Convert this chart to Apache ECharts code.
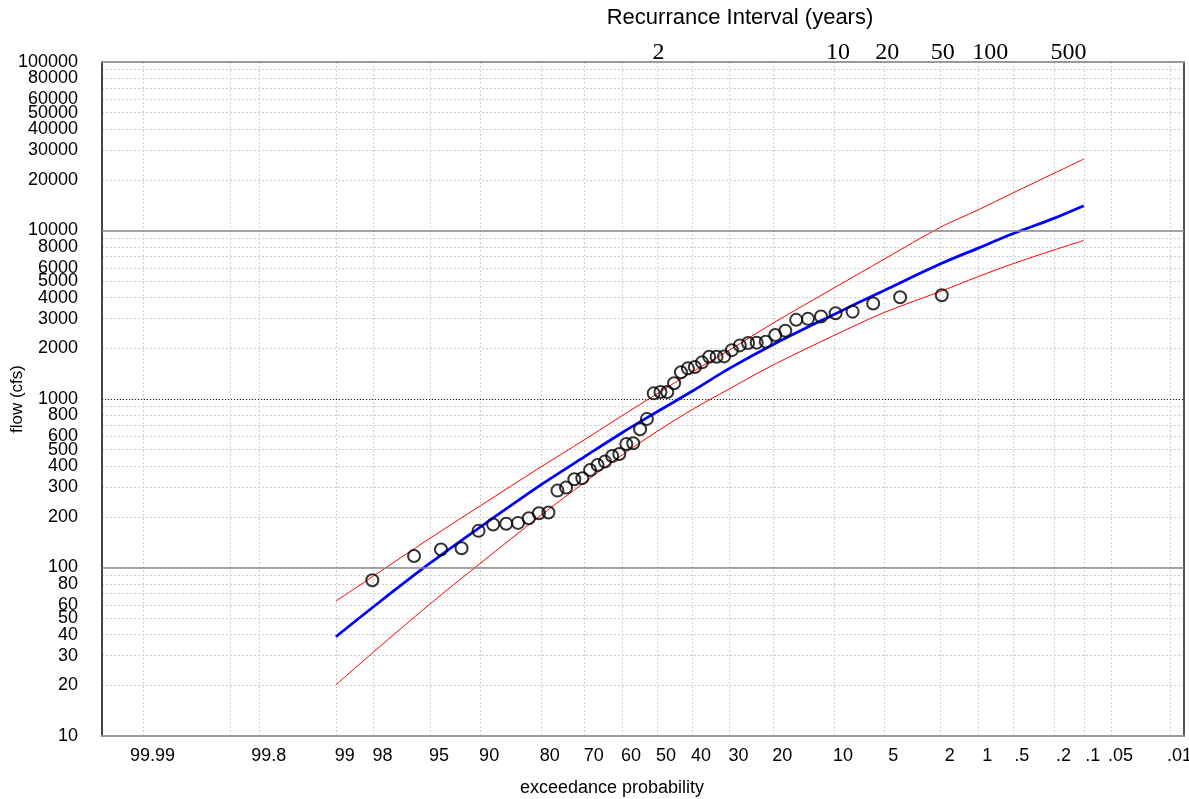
<!DOCTYPE html>
<html>
<head>
<meta charset="utf-8">
<script src="https://cdn.jsdelivr.net/npm/echarts@6/dist/echarts.min.js"></script>
<style>
html,body{margin:0;padding:0;background:#fff;}
#chart{width:1189px;height:799px;}
</style>
</head>
<body>
<div id="chart"></div>
<script>
// ---------------- data ----------------
// observed annual peaks: exceedance probability (%) and flow (cfs)
const obsExceedPct = [1.96, 3.92, 5.88, 7.84, 9.80, 11.76, 13.73, 15.69, 17.65, 19.61,
  21.57, 23.53, 25.49, 27.45, 29.41, 31.37, 33.33, 35.29, 37.25, 39.22,
  41.18, 43.14, 45.10, 47.06, 49.02, 50.98, 52.94, 54.90, 56.86, 58.82,
  60.78, 62.75, 64.71, 66.67, 68.63, 70.59, 72.55, 74.51, 76.47, 78.43,
  80.39, 82.35, 84.31, 86.27, 88.24, 90.20, 92.16, 94.12, 96.08, 98.04];
const obsFlow = [4130, 4020, 3690, 3300, 3230, 3090, 2990, 2950, 2540, 2400,
  2190, 2160, 2150, 2080, 1950, 1790, 1780, 1780, 1650, 1550,
  1520, 1440, 1240, 1100, 1100, 1080, 762, 662, 546, 541,
  472, 459, 425, 406, 379, 339, 334, 298, 286, 212,
  210, 196, 184, 182, 180, 165, 130, 128, 117, 84];

// fitted frequency curve and confidence limits
const curveExceedPct = [99, 98, 95, 90, 80, 70, 60, 50, 40, 30, 20, 10, 5, 2, 1, 0.5, 0.2, 0.1];
const fitFlow   = [38.8, 58.5, 106, 173.5, 309, 455, 631, 840, 1112, 1520, 2107, 3176, 4410, 6343, 7864, 9560, 11845, 14020];
const upperFlow = [63.2, 89.0, 149, 232, 395, 574, 796, 1074, 1444, 1952, 2823, 4561, 6765, 10470, 13270, 16680, 21920, 26550];
const lowerFlow = [20.1, 31.5, 60.7, 105.6, 204, 320.5, 465.6, 642, 864, 1150, 1594, 2383, 3260, 4355, 5331, 6343, 7683, 8724];

// axis ticks
const probLabelPct  = [99.99, 99.8, 99, 98, 95, 90, 80, 70, 60, 50, 40, 30, 20, 10, 5, 2, 1, 0.5, 0.2, 0.1, 0.05, 0.01];
const probLabelText = ['99.99','99.8','99','98','95','90','80','70','60','50','40','30','20','10','5','2','1','.5','.2','.1','.05','.01'];
const probGridPct   = [99.99, 99.9, 99.8, 99, 98, 95, 90, 80, 70, 60, 50, 40, 30, 20, 10, 5, 2, 1, 0.5, 0.2, 0.1, 0.05, 0.01];
const recurrenceYears = [2, 10, 20, 50, 100, 500];
const flowLabels = [10,20,30,40,50,60,80,100,200,300,400,500,600,800,1000,2000,3000,4000,5000,6000,8000,
  10000,20000,30000,40000,50000,60000,80000];
const flowTopLabel = [100000];
const flowMajorLines = [100, 1000, 10000];

// ---------------- helpers ----------------
function normInv(p){
  const a=[-3.969683028665376e+01,2.209460984245205e+02,-2.759285104469687e+02,1.383577518672690e+02,-3.066479806614716e+01,2.506628277459239e+00];
  const b=[-5.447609879822406e+01,1.615858368580409e+02,-1.556989798598866e+02,6.680131188771972e+01,-1.328068155288572e+01];
  const c=[-7.784894002430293e-03,-3.223964580411365e-01,-2.400758277161838e+00,-2.549671348192161e+00,4.374664141464968e+00,2.938163982698783e+00];
  const d=[7.784695709041462e-03,3.224671290700398e-01,2.445134137142996e+00,3.754408661907416e+00];
  const pl=0.02425, ph=1-pl; let q,r;
  if(p<pl){q=Math.sqrt(-2*Math.log(p));return (((((c[0]*q+c[1])*q+c[2])*q+c[3])*q+c[4])*q+c[5])/((((d[0]*q+d[1])*q+d[2])*q+d[3])*q+1);}
  if(p<=ph){q=p-0.5;r=q*q;return (((((a[0]*r+a[1])*r+a[2])*r+a[3])*r+a[4])*r+a[5])*q/(((((b[0]*r+b[1])*r+b[2])*r+b[3])*r+b[4])*r+1);}
  q=Math.sqrt(-2*Math.log(1-p));return -(((((c[0]*q+c[1])*q+c[2])*q+c[3])*q+c[4])*q+c[5])/((((d[0]*q+d[1])*q+d[2])*q+d[3])*q+1);
}
// normal-probability position of an exceedance percentage
function xOf(pct){ return normInv(1 - pct/100); }

const X_MIN = -4.02, X_MAX = 3.816;

const probLabelZ = probLabelPct.map(xOf);
const probGridZ = probGridPct.map(xOf);
const recurZ = recurrenceYears.map(t => xOf(100/t));

function nearestIndex(arr, v){
  let bi=0, bd=Infinity;
  arr.forEach((z,i)=>{const d=Math.abs(z-v); if(d<bd){bd=d;bi=i;}});
  return bi;
}

const flowGrid = [];
[10,100,1000,10000].forEach(dec => { for(let m=1;m<10;m++) flowGrid.push(m*dec); });
flowGrid.push(99999.99);
// keep the top label inside the axis extent (float rounding of the log scale)
const flowTopValues = flowTopLabel.map(v => v * 0.9999999);

// per-label horizontal nudges of the recurrence labels (px)
const recurShift = [1.5, 4, 3, 2, 12, 14];
const recurRich = {};
recurrenceYears.forEach((t,i)=>{
  recurRich['r'+i] = {fontFamily:'Liberation Serif, Times New Roman, serif', fontSize:24, color:'#000',
    padding:[0,0,0,recurShift[i]*2]};
});

const pairs = (pcts, vals) => pcts.map((p,i)=>[xOf(p), vals[i]]);

const FONT = 'Liberation Sans, Arial, sans-serif';
const yLabelStyle = {margin:24, fontFamily:FONT, fontSize:18, color:'#000', hideOverlap:false,
  showMinLabel:true, showMaxLabel:true, formatter:v=>String(Math.round(v))};

const chart = echarts.init(document.getElementById('chart'), null, {renderer:'canvas'});
chart.setOption({
  animation:false,
  backgroundColor:'#fff',
  grid:{left:102, right:5, top:62, bottom:63, containLabel:false, outerBoundsMode:'none'},
  xAxis:[{
    type:'value', position:'bottom', min:X_MIN, max:X_MAX,
    name:'exceedance probability', nameLocation:'middle', nameGap:43, nameMoveOverlap:false,
    nameTextStyle:{fontFamily:FONT, fontSize:18, color:'#000', padding:[0,62,0,0]},
    axisLine:{show:true, onZero:false, lineStyle:{color:'#999', width:2}},
    axisTick:{show:false, customValues:probGridZ},
    axisLabel:{customValues:probLabelZ, margin:11, fontFamily:FONT, fontSize:18, color:'#000',
      padding:[0,0,0,18], hideOverlap:false, showMinLabel:true, showMaxLabel:true,
      formatter:v=>probLabelText[nearestIndex(probLabelZ, v)]},
    splitLine:{show:true, lineStyle:{color:'#cfcfcf', width:1, type:[2,2]}}
  },{
    type:'value', position:'top', min:X_MIN, max:X_MAX,
    name:'Recurrance Interval (years)', nameLocation:'middle', nameGap:33, nameMoveOverlap:false,
    nameTextStyle:{fontFamily:FONT, fontSize:22, color:'#000', padding:[0,0,0,194]},
    axisLine:{show:true, onZero:false, lineStyle:{color:'#999', width:2}},
    axisTick:{show:false, customValues:recurZ},
    axisLabel:{customValues:recurZ, margin:-3, rich:recurRich, hideOverlap:false,
      showMinLabel:true, showMaxLabel:true,
      formatter:v=>{const i=nearestIndex(recurZ, v); return '{r'+i+'|'+recurrenceYears[i]+'}';}},
    splitLine:{show:false}
  }],
  yAxis:[{
    type:'log', logBase:10, min:10, max:100000, position:'left',
    name:'flow (cfs)', nameLocation:'middle', nameGap:76, nameRotate:90, nameMoveOverlap:false,
    nameTextStyle:{fontFamily:FONT, fontSize:17, color:'#000'},
    axisLine:{show:true, onZero:false, lineStyle:{color:'#444', width:2}},
    axisTick:{show:false, customValues:flowGrid},
    axisLabel:Object.assign({customValues:flowLabels}, yLabelStyle),
    splitLine:{show:true, lineStyle:{color:'#cfcfcf', width:1, type:[2,2]}}
  },{
    type:'log', logBase:10, min:10, max:100000, position:'right',
    axisLine:{show:true, onZero:false, lineStyle:{color:'#555', width:2}},
    axisTick:{show:false}, axisLabel:{show:false}, splitLine:{show:false}
  },{
    type:'log', logBase:10, min:10, max:100000, position:'left', offset:0,
    axisLine:{show:false, onZero:false},
    axisTick:{show:false},
    axisLabel:Object.assign({customValues:flowTopValues}, yLabelStyle),
    splitLine:{show:false}
  }],
  series:[{
    name:'major grid', type:'line', data:[], z:1, silent:true,
    markLine:{silent:true, symbol:['none','none'], label:{show:false}, animation:false,
      data: flowMajorLines.map(v=>({yAxis:v, lineStyle: v===1000
        ? {color:'#222', width:1, type:[1,2]}
        : {color:'#888', width:1.5, type:'solid'}}))}
  },{
    name:'upper limit', type:'line', data:pairs(curveExceedPct, upperFlow), z:3,
    smooth:0.35, showSymbol:false, lineStyle:{color:'#ff0000', width:1}
  },{
    name:'lower limit', type:'line', data:pairs(curveExceedPct, lowerFlow), z:3,
    smooth:0.35, showSymbol:false, lineStyle:{color:'#ff0000', width:1}
  },{
    name:'fitted', type:'line', data:pairs(curveExceedPct, fitFlow), z:4,
    smooth:0.35, showSymbol:false, lineStyle:{color:'#0000ff', width:2.8}
  },{
    name:'observed', type:'scatter', data:pairs(obsExceedPct, obsFlow), z:5,
    symbol:'circle', symbolSize:12,
    itemStyle:{color:'rgba(255,255,255,0)', borderColor:'#000', borderWidth:2}
  }]
});
</script>
</body>
</html>
